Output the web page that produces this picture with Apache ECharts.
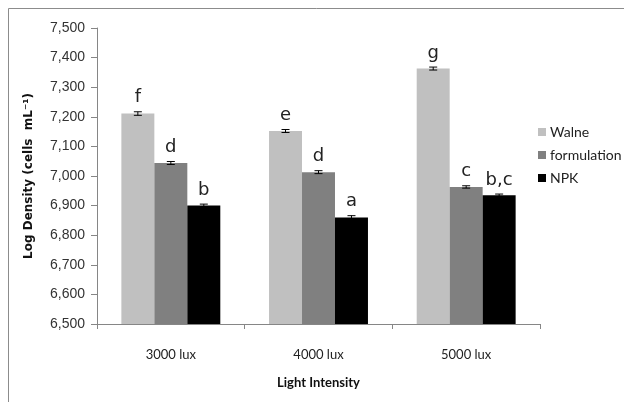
<!DOCTYPE html>
<html>
<head>
<meta charset="utf-8">
<script src="https://cdn.jsdelivr.net/npm/echarts@6/dist/echarts.min.js"></script>
<style>
  html, body { margin: 0; padding: 0; background: #fff; }
  #chart { width: 624px; height: 402px; }
</style>
</head>
<body>
<div id="chart"></div>
<script>
var categories = ['3000 lux', '4000 lux', '5000 lux'];
var seriesNames = ['Walne', 'formulation', 'NPK'];
var walne = [7211, 7152, 7363];
var formulation = [7044, 7013, 6963];
var npk = [6900, 6860, 6935];
var walneErr = [6, 5, 5];
var formulationErr = [5, 5, 4];
var npkErr = [5, 6, 4];
var walneLetters = ['f', 'e', 'g'];
var formulationLetters = ['d', 'd', 'c'];
var npkLetters = ['b', 'a', 'b,c'];

var colors = ['#c0c0c0', '#808080', '#000000'];
var values = [walne, formulation, npk];
var errs = [walneErr, formulationErr, npkErr];
var letters = [walneLetters, formulationLetters, npkLetters];

var chart = echarts.init(document.getElementById('chart'));
var gapRatio = 0.33;

// error bars + letters, offset like the bars in each group
function errSeries (k) {
  return {
    type: 'custom',
    silent: true,
    z: 5,
    data: categories.map(function (c, i) {
      return [i, values[k][i], errs[k][i], letters[k][i]];
    }),
    renderItem: function (params, api) {
      var bandW = api.size([1, 0])[0];
      var barW = bandW * (1 - gapRatio) / 3;
      var center = api.coord([api.value(0), api.value(1)]);
      var x = center[0] + (k - 1) * barW;
      var hi = api.coord([api.value(0), api.value(1) + api.value(2)])[1];
      var lo = api.coord([api.value(0), api.value(1) - api.value(2)])[1];
      var cap = 4;
      var st = { stroke: '#000', lineWidth: 1 };
      return {
        type: 'group',
        children: [
          { type: 'line', shape: { x1: x, y1: hi, x2: x, y2: lo }, style: st },
          { type: 'line', shape: { x1: x - cap, y1: hi, x2: x + cap, y2: hi }, style: st },
          { type: 'line', shape: { x1: x - cap, y1: lo, x2: x + cap, y2: lo }, style: st },
          {
            type: 'text',
            style: {
              x: x, y: hi - 5,
              text: letters[k][params.dataIndex],
              fill: '#222',
              font: '18px "DejaVu Sans", Lato, sans-serif',
              align: 'center', verticalAlign: 'bottom'
            }
          }
        ]
      };
    }
  };
}

var series = [];
for (var k = 0; k < 3; k++) {
  series.push({
    name: seriesNames[k],
    type: 'bar',
    data: values[k],
    barGap: '0%',
    barCategoryGap: (gapRatio * 100) + '%',
    itemStyle: { color: colors[k] }
  });
}
for (var k = 0; k < 3; k++) series.push(errSeries(k));

chart.setOption({
  animation: false,
  backgroundColor: '#fff',
  graphic: [{
    type: 'rect',
    shape: { x: 8.5, y: 8.5, width: 700, height: 500 },
    style: { fill: 'none', stroke: '#8c8c8c', lineWidth: 1 },
    silent: true
  }],
  grid: { left: 97, right: 84, top: 28, bottom: 78 },
  legend: {
    orient: 'vertical',
    left: 533,
    top: 120,
    itemWidth: 8,
    itemHeight: 8,
    itemGap: 9,
    icon: 'rect',
    data: seriesNames,
    textStyle: { fontFamily: 'Lato, sans-serif', fontSize: 14, color: '#222', padding: [0, 0, 0, -1] }
  },
  xAxis: {
    type: 'category',
    data: categories,
    name: 'Light Intensity',
    nameLocation: 'middle',
    nameGap: 52,
    nameTextStyle: { fontFamily: 'Lato, sans-serif', fontWeight: 'bold', fontSize: 13, color: '#111' },
    axisLine: { lineStyle: { color: '#868686' } },
    axisTick: { show: true, length: 5, lineStyle: { color: '#868686' } },
    axisLabel: { fontFamily: 'Lato, sans-serif', fontSize: 13, color: '#222', margin: 24 }
  },
  yAxis: {
    type: 'value',
    min: 6500,
    max: 7500,
    interval: 100,
    name: 'Log Density (cells  mL\u207B\u00B9)',
    nameLocation: 'middle',
    nameGap: 62,
    nameTextStyle: { fontFamily: 'DejaVu Sans, sans-serif', fontWeight: 'bold', fontSize: 12, color: '#111' },
    splitLine: { show: false },
    axisLine: { show: true, lineStyle: { color: '#868686' } },
    axisTick: { show: true, length: 6, lineStyle: { color: '#868686' } },
    axisLabel: {
      fontFamily: 'Liberation Sans, sans-serif',
      fontSize: 14,
      color: '#333',
      margin: 12,
      formatter: function (v) { return v.toLocaleString('en-US'); }
    }
  },
  series: series
});
</script>
</body>
</html>
